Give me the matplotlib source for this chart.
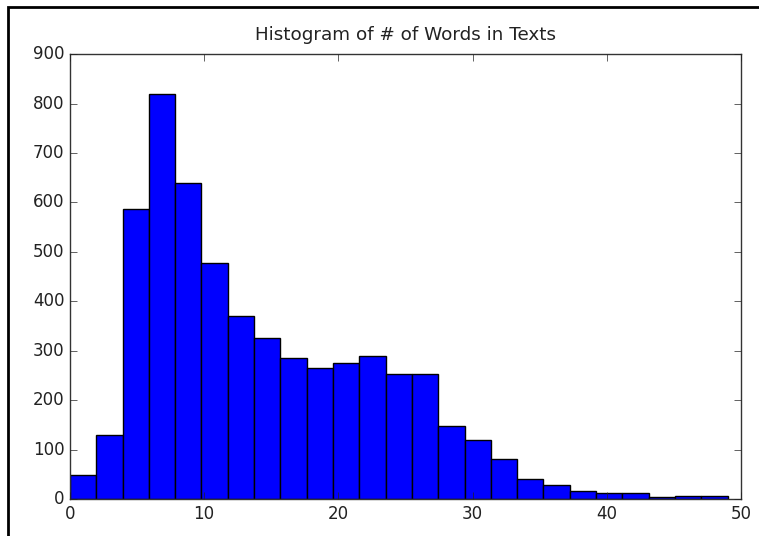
import numpy as np
import matplotlib
matplotlib.use("Agg")
import matplotlib.pyplot as plt
from matplotlib.patches import Rectangle

# word count histogram, 25 bins over 0..49
bin_edges = np.linspace(0, 49, 26)
counts = [48, 129, 587, 820, 640, 478, 370, 326, 285, 265,
          276, 289, 253, 253, 148, 120, 80, 40, 28, 16,
          12, 12, 4, 7, 7]

plt.style.use("classic")
plt.rcParams["font.family"] = ["DejaVu Sans"]
plt.rcParams["text.color"] = "#222222"
plt.rcParams["xtick.color"] = "#222222"
plt.rcParams["ytick.color"] = "#222222"

fig = plt.figure(figsize=(7.59, 5.36), dpi=100, facecolor="white")
ax = fig.add_axes([0.0922, 0.069, 0.884, 0.830])

ax.hist(bin_edges[:-1], bins=bin_edges, weights=counts,
        color="#0000ff", edgecolor="black", linewidth=1.0)

ax.set_xlim(0, 50)
ax.set_ylim(0, 900)
ax.set_xticks([0, 10, 20, 30, 40, 50])
ax.set_yticks(range(0, 901, 100))
ax.tick_params(labelsize=12, direction="in", length=5)
ax.set_title("Histogram of # of Words in Texts", fontsize=13.2, y=1.017)
for s in ax.spines.values():
    s.set_color("#333333")

# screenshot frame on top and left
fig.add_artist(Rectangle((8 / 759, -0.1), 1.2, 1.1 - 7 / 536,
                         transform=fig.transFigure, fill=False,
                         edgecolor="black", linewidth=2))

fig.savefig("out.png", dpi=100, facecolor="white")
